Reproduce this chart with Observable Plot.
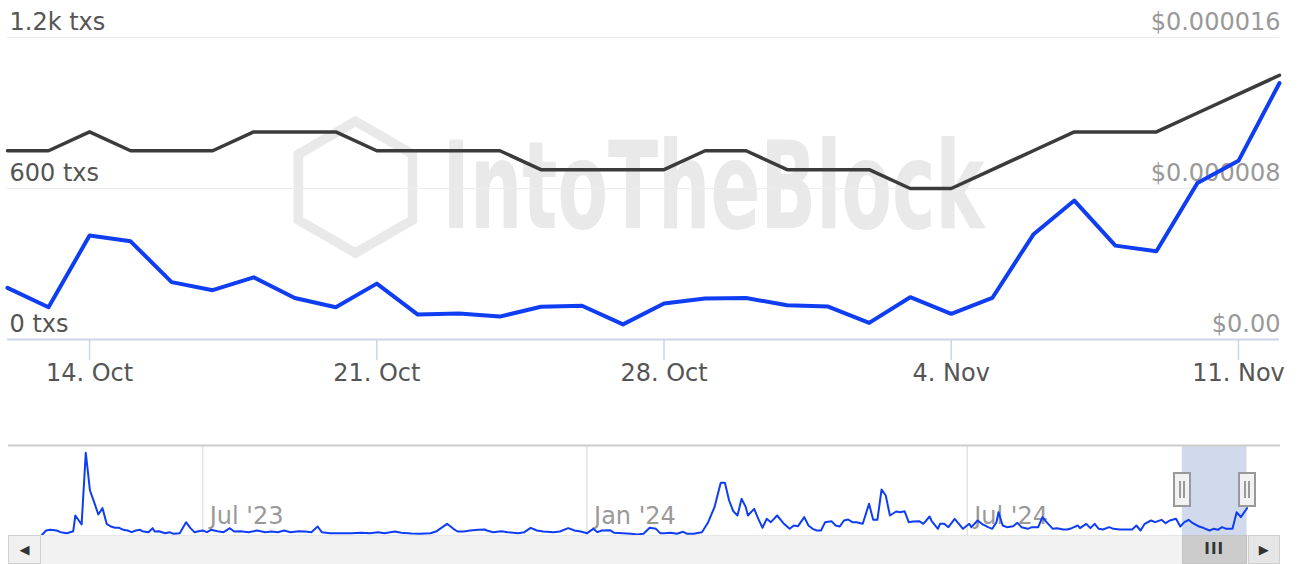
<!DOCTYPE html>
<html><head><meta charset="utf-8">
<script src="https://cdn.jsdelivr.net/npm/d3@7"></script>
<script src="https://cdn.jsdelivr.net/npm/@observablehq/plot@0.6"></script>
<style>
body{margin:0;background:#fff;font-family:"DejaVu Sans",sans-serif;}
#wrap{position:relative;width:1298px;height:564px;overflow:hidden;background:#fff;}
#main,#nav{position:absolute;left:0;}
#main{top:0px;} #nav{top:430px;}
.c{position:absolute;box-sizing:border-box;}
</style></head><body>
<div id="wrap"><div id="main"></div><div id="nav"></div></div>
<script>
// ---------- main chart data (12 Oct – 12 Nov 2024) ----------
const dates = ["2024-10-12","2024-10-13","2024-10-14","2024-10-15","2024-10-16","2024-10-17","2024-10-18","2024-10-19","2024-10-20","2024-10-21","2024-10-22","2024-10-23","2024-10-24","2024-10-25","2024-10-26","2024-10-27","2024-10-28","2024-10-29","2024-10-30","2024-10-31","2024-11-01","2024-11-02","2024-11-03","2024-11-04","2024-11-05","2024-11-06","2024-11-07","2024-11-08","2024-11-09","2024-11-10","2024-11-11","2024-11-12"];
const txs = [205,128,413,390,228,196,247,165,128,222,99,103,91,130,134,60,143,163,165,136,131,66,168,102,165,417,552,373,351,622,710,1019];
// price in millionths of a dollar
const priceMicro = [10,10,11,10,10,10,11,11,11,10,10,10,10,9,9,9,9,10,10,9,9,9,8,8,9,10,11,11,11,12,13,14];
const yTicks = [0, 600, 1200];
const leftLabels = ["0 txs", "600 txs", "1.2k txs"];
const rightLabels = ["$0.00", "$0.000008", "$0.000016"];
const priceMax = 0.000016;
const xTicks = ["2024-10-14","2024-10-21","2024-10-28","2024-11-04","2024-11-11"];

// ---------- navigator data (days from navBase, transactions) ----------
const navBase = "2023-07-01";
const navDays = [-77,-75,-73,-70,-68,-65,-62,-61,-58,-56,-54,-52,-50,-48,-46,-44,-42,-40,-38,-36,-34,-32,-30,-29,-26,-24,-23,-21,-18,-16,-14,-11,-8,-6,-4,-2,0,2,4,7,10,13,15,18,22,26,30,33,36,39,42,46,49,52,55,57,61,66,
71,76,80,84,87,92,95,100,104,109,112,117,120,122,125,128,132,135,136,139,143,146,151,154,157,160,163,168,171,175,178,181,184,187,189,191,195,197,201,205,
208,211,214,217,219,221,224,227,230,232,235,239,242,245,248,250,252,254,256,258,260,261,264,266,268,270,272,275,278,281,283,285,288,290,292,294,296,298,301,303,305,307,309,311,313,316,319,321,323,325,327,329,332,334,336,338,340,343,345,348,349,352,353,
355,357,360,362,364,367,368,371,373,376,378,380,381,383,385,388,390,392,395,397,400,402,404,407,409,412,414,416,419,420,423,425,427,429,431,434,436,439,443,445,447,449,451,
454,456,459,461,463,466,468,470,472,474,477,479,482,484,486,488,490,493,495,497,500];
const navTxs = [20,200,227,200,133,93,173,800,440,3307,1800,1333,840,1093,467,360,307,307,227,200,133,200,227,173,133,293,160,173,93,133,67,93,533,307,133,173,200,133,227,173,133,293,160,173,133,200,133,160,133,200,133,173,160,133,360,133,93,93,
93,107,93,133,93,160,107,80,67,93,173,467,267,160,160,200,227,240,200,133,173,133,93,133,307,200,160,133,160,293,200,160,93,267,133,200,213,107,93,67,
40,67,307,267,93,93,107,67,147,67,67,133,533,1133,2107,2107,1400,973,800,1467,1133,800,1067,667,307,667,533,800,493,267,400,373,733,400,267,200,200,533,573,400,360,600,640,533,533,467,1267,627,627,1840,1600,800,960,933,973,533,560,573,467,760,573,267,467,
467,333,667,467,267,467,333,600,467,333,267,533,933,400,333,373,507,333,267,333,333,733,533,267,293,240,240,293,400,293,467,293,467,267,240,333,267,240,240,240,400,200,467,
600,533,627,493,600,667,360,533,627,493,360,307,200,267,227,333,267,267,933,733,1093];
const navMax = 3600;
const navTicks = ["2023-07-01","2024-01-01","2024-07-01"];
const navTickLabels = ["Jul '23", "Jan '24", "Jul '24"];
const navDomain = ["2023-03-30","2024-11-28"];
const selection = ["2024-10-12","2024-11-12"];

// ---------- build ----------
const parse = d3.utcParse("%Y-%m-%d");
const font = "DejaVu Sans";
const blue = "#0f3ef2";
const main = dates.map((d, i) => ({date: parse(d), txs: txs[i], price: priceMicro[i] * 1e-6}));
const toTx = p => p / priceMax * yTicks[yTicks.length - 1];

const mainPlot = Plot.plot({
  width: 1298, height: 400,
  marginLeft: 7, marginRight: 19, marginTop: 37, marginBottom: 61,
  style: {fontFamily: font, background: "transparent", overflow: "visible"},
  x: {type: "utc", domain: [parse(dates[0]), parse(dates[dates.length - 1])]},
  y: {domain: [0, 1200], axis: null},
  marks: [
    Plot.text(["\u2B21"], {text: d => d, frameAnchor: "middle", dx: -288, dy: 0, fontSize: 170, fill: "#e9e9e9"}),
    Plot.text(["IntoTheBlock"], {text: d => d, frameAnchor: "middle", dx: 70, dy: 0, fontSize: 73.5, fontWeight: "bold", fill: "#e9e9e9"}),
    Plot.ruleY(yTicks.slice(1), {stroke: "#ececec", strokeWidth: 1}),
    Plot.ruleY([0], {stroke: "#ccd6eb", strokeWidth: 2}),
    Plot.axisX({ticks: xTicks.map(parse), tickSize: 21, tickPadding: 3, tickFormat: d3.utcFormat("%-d. %b"),
      stroke: "#ccd6eb", strokeWidth: 1.5, fill: "#555", fontSize: 24, label: null}),
    Plot.text(yTicks, {y: d => d, text: (d, i) => leftLabels[i], frameAnchor: "left", textAnchor: "start", dx: 2, dy: -15, fontSize: 24, fill: "#555"}),
    Plot.text(yTicks, {y: d => d, text: (d, i) => rightLabels[i], frameAnchor: "right", textAnchor: "end", dx: 1, dy: -15, fontSize: 24, fill: "#999"}),
    Plot.line(main, {x: "date", y: d => toTx(d.price), stroke: "#3b3b3b", strokeWidth: 3.5}),
    Plot.line(main, {x: "date", y: "txs", stroke: blue, strokeWidth: 4})
  ]
});
document.getElementById("main").appendChild(mainPlot);
// stretch the watermark vertically (tall, narrow lettering like the reference)
d3.select(mainPlot).selectAll("text").filter(function () { return this.textContent === "IntoTheBlock"; })
  .each(function () {
    const bb = this.getBBox();
    const cy = bb.y + bb.height / 2;
    const t = this.getAttribute("transform") || "";
    this.setAttribute("transform", `${t} translate(0,${cy}) scale(1,1.64) translate(0,${-cy})`);
  });

const baseDate = parse(navBase);
const nav = navDays.map((d, i) => ({date: d3.utcDay.offset(baseDate, d), v: navTxs[i]}));
const navPlot = Plot.plot({
  width: 1298, height: 105,
  marginLeft: 8, marginRight: 18, marginTop: 15, marginBottom: 0,
  style: {fontFamily: font, background: "transparent", overflow: "visible"},
  x: {type: "utc", domain: navDomain.map(parse), axis: null},
  y: {domain: [0, navMax], axis: null},
  marks: [
    Plot.rect([selection], {x1: d => parse(d[0]), x2: d => parse(d[1]), fill: "#6685c2", fillOpacity: 0.3}),
    Plot.ruleX(navTicks.map(parse), {stroke: "#e3e3e3", strokeWidth: 1.5}),
    Plot.text(navTicks, {x: d => parse(d), text: (d, i) => navTickLabels[i], frameAnchor: "bottom", textAnchor: "start", dx: 7, dy: -12, fontSize: 24, fill: "#999"}),
    Plot.ruleY([navMax], {stroke: "#cccccc", strokeWidth: 2}),
    Plot.line(nav, {x: "date", y: "v", stroke: blue, strokeWidth: 2})
  ]
});
document.getElementById("nav").appendChild(navPlot);

// ---------- navigator chrome (handles + scrollbar) ----------
const sx = navPlot.scale("x");
const a = sx.apply(parse(selection[0])), b = sx.apply(parse(selection[1]));
const wrap = document.getElementById("wrap");
function box(css, html) { const e = document.createElement("div"); e.className = "c"; e.style.cssText = css; if (html) e.innerHTML = html; wrap.appendChild(e); return e; }
const r0 = sx.range[0], r1 = sx.range[1];
box(`left:${r0}px;top:535px;width:${r1 - r0}px;height:29px;background:#f2f2f2;border-top:1px solid #e6e6e6;`);
box(`left:${r0}px;top:535px;width:33px;height:29px;background:#f0f0f0;border:1px solid #cfcfcf;color:#333;font-size:13px;line-height:27px;text-align:center;`, "&#9664;");
box(`left:${a}px;top:535px;width:${b - a}px;height:29px;background:#cccccc;border:1px solid #c4c4c4;color:#333;font-size:15px;font-weight:bold;line-height:27px;text-align:center;letter-spacing:1px;`, "III");
box(`left:${b + 1}px;top:535px;width:${r1 - b - 1}px;height:29px;background:#e6e6e6;border:1px solid #cfcfcf;color:#333;font-size:13px;line-height:27px;text-align:center;`, "&#9654;");
for (const h of [a, b]) {
  const el = box(`left:${h - 9}px;top:472px;width:18px;height:35px;background:#f2f2f2;border:2px solid #999;`);
  el.innerHTML = `<div class="c" style="left:4px;top:7px;width:2px;height:17px;background:#999"></div><div class="c" style="left:8px;top:7px;width:2px;height:17px;background:#999"></div>`;
}
</script>
</body></html>
